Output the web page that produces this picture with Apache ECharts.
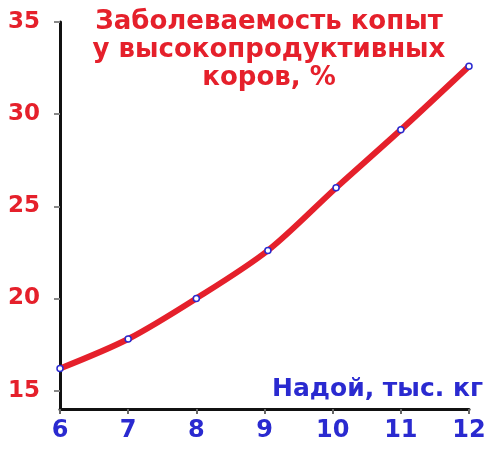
<!DOCTYPE html>
<html>
<head>
<meta charset="utf-8">
<script src="https://cdn.jsdelivr.net/npm/echarts@6/dist/echarts.min.js"></script>
<style>
html, body { margin: 0; padding: 0; background: #fff; }
#chart { width: 500px; height: 453px; }
</style>
</head>
<body>
<div id="chart"></div>
<script>
var milkYield = [6, 7, 8, 9.05, 10.05, 11, 12];
var hoofDisease = [16.2, 17.8, 20.0, 22.6, 26.0, 29.15, 32.6];
var yTicks = [15, 20, 25, 30, 35];
var xTicks = [6, 7, 8, 9, 10, 11, 12];

var red = '#e5202b';
var blue = '#2a2ad0';

var myChart = echarts.init(document.getElementById('chart'));
var points = milkYield.map(function (x, i) { return [x, hoofDisease[i]]; });

var option = {
    backgroundColor: '#fff',
    animation: false,
    title: [{
        text: 'Заболеваемость копыт\nу высокопродуктивных\nкоров, %',
        left: 264,
        top: 3,
        textAlign: 'center',
        textStyle: {
            color: red,
            fontFamily: 'DejaVu Sans',
            fontWeight: 'bold',
            fontSize: 26,
            lineHeight: 28
        }
    }, {
        text: 'Надой, тыс. кг',
        right: 12,
        top: 372,
        textStyle: {
            color: blue,
            fontFamily: 'DejaVu Sans',
            fontWeight: 'bold',
            fontSize: 25
        }
    }],
    grid: { left: 60, right: 31, top: 22, bottom: 44 },
    xAxis: {
        type: 'value',
        min: 6,
        max: 12,
        interval: 1,
        splitLine: { show: false },
        axisLine: { lineStyle: { color: '#111', width: 3 } },
        axisTick: { length: 5, lineStyle: { color: '#666', width: 2 }, customValues: xTicks },
        axisLabel: {
            color: blue,
            fontFamily: 'DejaVu Sans',
            fontWeight: 'bold',
            fontSize: 24,
            margin: 10,
            customValues: xTicks
        }
    },
    yAxis: {
        type: 'value',
        min: 14,
        max: 35,
        interval: 1,
        splitLine: { show: false },
        axisLine: { show: true, lineStyle: { color: '#111', width: 3 } },
        axisTick: { show: true, length: 6, lineStyle: { color: '#888', width: 2 }, customValues: yTicks },
        axisLabel: {
            color: red,
            fontFamily: 'DejaVu Sans',
            fontWeight: 'bold',
            fontSize: 23,
            margin: 20,
            customValues: yTicks
        }
    },
    series: [{
        type: 'line',
        data: points,
        smooth: 0.3,
        symbol: 'circle',
        symbolSize: 6,
        lineStyle: { color: red, width: 6 },
        itemStyle: { color: '#fff', borderColor: blue, borderWidth: 1.5 },
        z: 3
    }]
};

myChart.setOption(option);
window.addEventListener('resize', function () {
    myChart.resize();
});
</script>
</body>
</html>
